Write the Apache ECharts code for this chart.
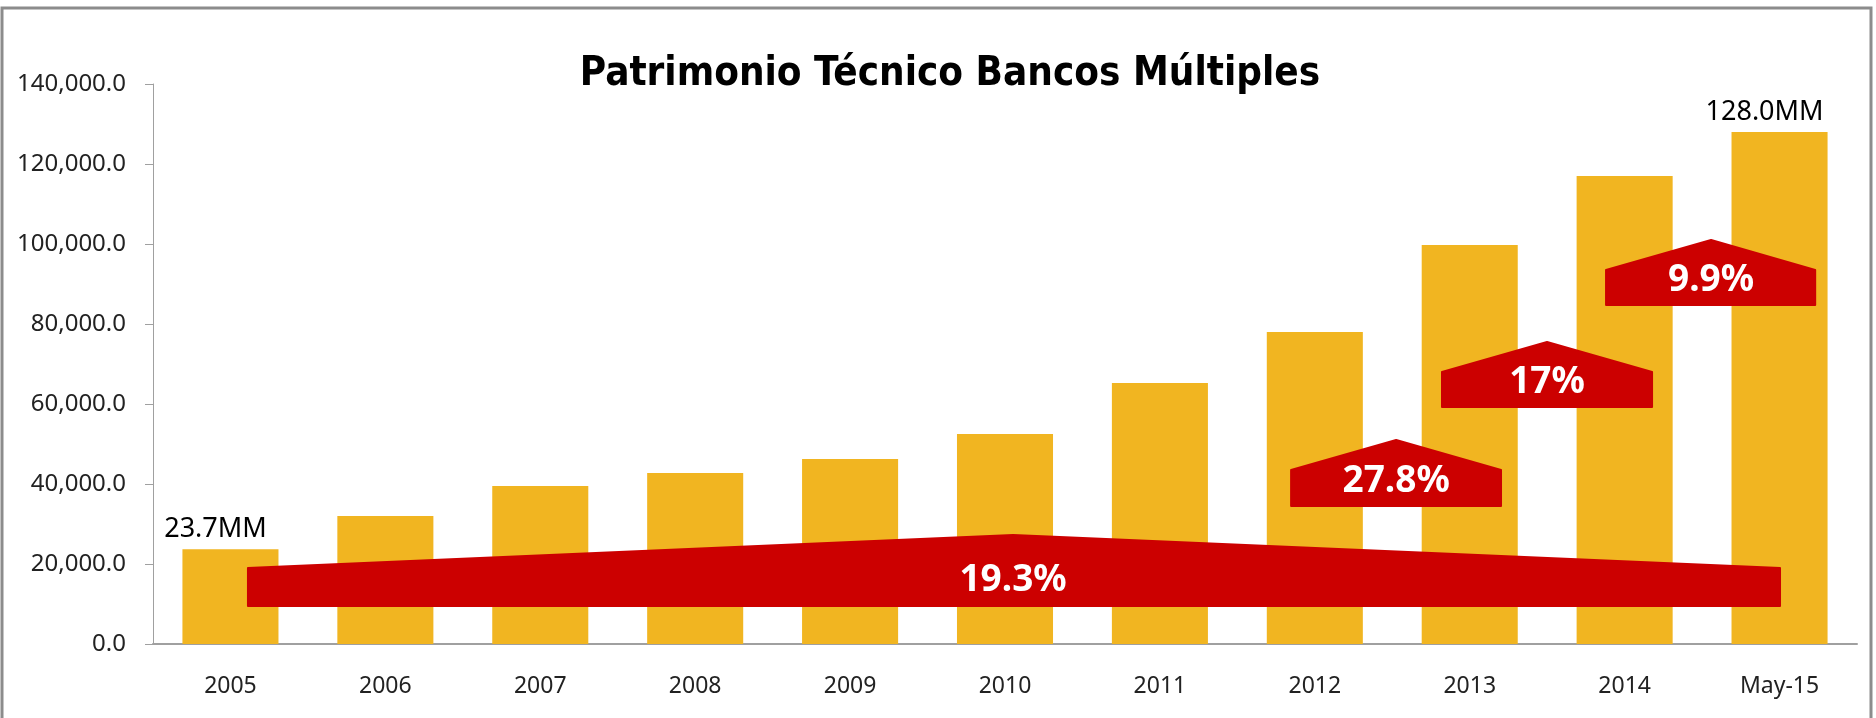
<!DOCTYPE html>
<html>
<head>
<meta charset="utf-8">
<title>Patrimonio Técnico Bancos Múltiples</title>
<script src="https://cdn.jsdelivr.net/npm/echarts@6/dist/echarts.min.js"></script>
<style>
    html, body { margin: 0; padding: 0; background: #fff; }
    #chart { width: 1876px; height: 718px; }
</style>
</head>
<body>
<div id="chart"></div>
<script>
    // values (millones)
    const years = ['2005', '2006', '2007', '2008', '2009', '2010', '2011', '2012', '2013', '2014', 'May-15'];
    const patrimonio = [23700, 32000, 39500, 42750, 46250, 52500, 65250, 78000, 99750, 117000, 128000];
    const barNotes = ['23.7MM', '', '', '', '', '', '', '', '', '', '128.0MM'];

    // growth arrows, in axis units (category index / value)
    const growthLabels = ['19.3%', '27.8%', '17%', '9.9%'];
    const arrowFrom = [0.113, 6.847, 7.821, 8.880];
    const arrowTo = [10.003, 8.202, 9.177, 10.23];
    const arrowPeakAt = [5.052, 7.525, 8.499, 9.558];
    const arrowBase = [9500, 34500, 59250, 84750];
    const arrowShoulder = [19000, 43500, 68000, 93500];
    const arrowPeak = [27250, 51000, 75500, 101000];
    const arrowTextAt = [15900, 40750, 65500, 91000];

    const labelFont = "'Noto Sans', 'Open Sans', sans-serif";
    const axisGrey = '#a0a0a0';

    const arrowData = growthLabels.map((txt, i) => [
        arrowFrom[i], arrowTo[i], arrowPeakAt[i],
        arrowBase[i], arrowShoulder[i], arrowPeak[i], arrowTextAt[i], txt
    ]);

    const myChart = echarts.init(document.getElementById('chart'), null, {renderer: 'canvas'});

    myChart.setOption({
        animation: false,
        backgroundColor: '#fff',
        title: {
            text: 'Patrimonio Técnico Bancos Múltiples',
            left: 945,
            top: 50,
            textAlign: 'center',
            textStyle: {
                fontFamily: "'Liberation Sans Narrow', 'DejaVu Sans Condensed', sans-serif",
                fontWeight: 'bold',
                fontSize: 40,
                color: '#000'
            }
        },
        graphic: [{
            type: 'rect',
            shape: {x: 2, y: 8, width: 1869, height: 730},
            style: {fill: 'none', stroke: '#8c8c8c', lineWidth: 3},
            silent: true
        }],
        grid: {left: 153, right: 19, top: 84, bottom: 74, outerBoundsMode: 'none'},
        xAxis: [
            {
                type: 'category',
                data: years,
                axisLine: {lineStyle: {color: axisGrey, width: 2}},
                axisTick: {length: 10, lineStyle: {color: axisGrey, width: 1}},
                axisLabel: {
                    margin: 31,
                    color: '#222',
                    fontFamily: labelFont,
                    fontSize: 23
                }
            },
            {
                type: 'value',
                min: -0.5,
                max: 10.5,
                show: false
            }
        ],
        yAxis: {
            type: 'value',
            min: 0,
            max: 140000,
            interval: 20000,
            splitLine: {show: false},
            axisLine: {show: true, onZero: false, lineStyle: {color: axisGrey, width: 1}},
            axisTick: {show: true, length: 8, lineStyle: {color: axisGrey}},
            axisLabel: {
                margin: 27,
                color: '#222',
                fontFamily: labelFont,
                fontSize: 24,
                formatter: v => v.toLocaleString('en-US', {minimumFractionDigits: 1, maximumFractionDigits: 1})
            }
        },
        series: [
            {
                name: 'Patrimonio',
                type: 'bar',
                barCategoryGap: '38%',
                itemStyle: {color: '#F1B521'},
                label: {
                    show: true,
                    position: 'top',
                    distance: 6,
                    offset: [-15, 0],
                    color: '#000',
                    fontFamily: labelFont,
                    fontSize: 27,
                    formatter: p => barNotes[p.dataIndex]
                },
                data: patrimonio
            },
            {
                name: 'Crecimiento',
                type: 'custom',
                xAxisIndex: 1,
                yAxisIndex: 0,
                z: 5,
                encode: {x: [0, 1, 2], y: [3, 4, 5]},
                renderItem: function (params, api) {
                    const x0 = api.value(0), x1 = api.value(1), xp = api.value(2);
                    const base = api.value(3), sh = api.value(4), pk = api.value(5), ty = api.value(6);
                    const pts = [
                        api.coord([x0, base]),
                        api.coord([x0, sh]),
                        api.coord([xp, pk]),
                        api.coord([x1, sh]),
                        api.coord([x1, base])
                    ];
                    const tp = api.coord([xp, ty]);
                    return {
                        type: 'group',
                        children: [
                            {
                                type: 'polygon',
                                shape: {points: pts},
                                style: {fill: '#CC0000', stroke: '#CC0000', lineWidth: 2, lineJoin: 'round'}
                            },
                            {
                                type: 'text',
                                style: {
                                    x: tp[0],
                                    y: tp[1],
                                    text: arrowData[params.dataIndex][7],
                                    fill: '#fff',
                                    font: "bold 37px 'Noto Sans', 'Open Sans', sans-serif",
                                    align: 'center',
                                    verticalAlign: 'middle'
                                }
                            }
                        ]
                    };
                },
                data: arrowData
            }
        ]
    });
</script>
</body>
</html>
